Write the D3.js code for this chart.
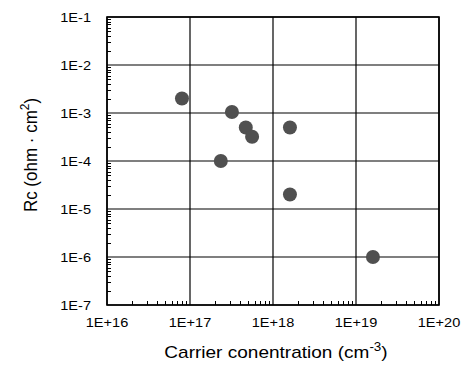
<!DOCTYPE html>
<html>
<head>
<meta charset="utf-8">
<script src="https://cdn.jsdelivr.net/npm/d3@7"></script>
<style>
  body { margin: 0; background: #fff; }
  svg text { font-family: "Liberation Sans", Arial, sans-serif; fill: #000; }
</style>
</head>
<body>
<div id="chart"></div>
<script>
// carrier concentration (cm^-3) vs contact resistance Rc (ohm.cm2)
const carrier = [8e16, 3.2e17, 4.7e17, 5.6e17, 2.35e17, 1.6e18, 1.6e18, 1.6e19];
const rc      = [2e-3, 1.05e-3, 5e-4, 3.2e-4, 1e-4, 5e-4, 2e-5, 1e-6];
const xTicks = [1e16, 1e17, 1e18, 1e19, 1e20];
const xTickLabels = ["1E+16", "1E+17", "1E+18", "1E+19", "1E+20"];
const yTicks = [1e-1, 1e-2, 1e-3, 1e-4, 1e-5, 1e-6, 1e-7];
const yTickLabels = ["1E-1", "1E-2", "1E-3", "1E-4", "1E-5", "1E-6", "1E-7"];

const W = 469, H = 365;
const margin = { top: 17, right: 30, bottom: 60, left: 107 };
const width = W - margin.left - margin.right;
const height = H - margin.top - margin.bottom;
const stretch = 1.12; // text in the original looks a bit wide

const svg = d3.select("#chart").append("svg")
  .attr("width", W).attr("height", H);
const g = svg.append("g")
  .attr("transform", "translate(" + margin.left + "," + margin.top + ")");

const x = d3.scaleLog().domain([1e16, 1e20]).range([0, width]);
const y = d3.scaleLog().domain([1e-7, 1e-1]).range([height, 0]);

// minor ticks 2..9 within each decade
function minors(lo, hi) {
  let out = [];
  for (let e = lo; e < hi; e++)
    for (let m = 2; m <= 9; m++) out.push(m * Math.pow(10, e));
  return out;
}

// grid lines
g.selectAll("line.gx").data(xTicks).enter().append("line")
  .attr("x1", d => x(d)).attr("x2", d => x(d))
  .attr("y1", 0).attr("y2", height)
  .attr("stroke", "#000").attr("stroke-width", 1.2);
g.selectAll("line.gy").data(yTicks).enter().append("line")
  .attr("y1", d => y(d)).attr("y2", d => y(d))
  .attr("x1", 0).attr("x2", width)
  .attr("stroke", "#000").attr("stroke-width", 1.2);

// minor ticks, inward
g.selectAll("line.mx").data(minors(16, 20)).enter().append("line")
  .attr("x1", d => Math.round(x(d)) + 0.5).attr("x2", d => Math.round(x(d)) + 0.5)
  .attr("y1", height).attr("y2", height - 4)
  .attr("stroke", "#000").attr("stroke-width", 1);
g.selectAll("line.my").data(minors(-7, -1)).enter().append("line")
  .attr("y1", d => Math.round(y(d)) + 0.5).attr("y2", d => Math.round(y(d)) + 0.5)
  .attr("x1", 0).attr("x2", 4)
  .attr("stroke", "#000").attr("stroke-width", 1);

// frame
g.append("rect")
  .attr("width", width).attr("height", height)
  .attr("fill", "none").attr("stroke", "#000").attr("stroke-width", 1.6);

// tick labels
g.selectAll("text.xt").data(xTicks).enter().append("text")
  .attr("transform", d => "translate(" + x(d) + "," + (height + 22) + ") scale(" + stretch + ",1)")
  .attr("text-anchor", "middle")
  .style("font-size", "13px")
  .text((d, i) => xTickLabels[i]);
g.selectAll("text.yt").data(yTicks).enter().append("text")
  .attr("transform", d => "translate(-16," + y(d) + ") scale(" + stretch + ",1)")
  .attr("dy", "0.35em")
  .attr("text-anchor", "end")
  .style("font-size", "13px")
  .text((d, i) => yTickLabels[i]);

// points
g.selectAll("circle.pt").data(carrier).enter().append("circle")
  .attr("cx", d => x(d)).attr("cy", (d, i) => y(rc[i]))
  .attr("r", 7)
  .attr("fill", "#505050");

// axis titles
const xt = svg.append("text")
  .attr("transform", "translate(276,358) scale(" + stretch + ",1)")
  .attr("text-anchor", "middle")
  .style("font-size", "17px");
xt.append("tspan").text("Carrier conentration (cm");
xt.append("tspan").attr("dy", -7).style("font-size", "12px").text("-3");
xt.append("tspan").attr("dy", 7).text(")");

const yt = svg.append("text")
  .attr("transform", "translate(37,155) scale(" + stretch + ",1) rotate(-90)")
  .attr("text-anchor", "middle")
  .style("font-size", "17px");
yt.append("tspan").text("Rc (ohm \u00B7 cm");
yt.append("tspan").attr("dy", -7).style("font-size", "12px").text("2");
yt.append("tspan").attr("dy", 7).text(")");
</script>
</body>
</html>
